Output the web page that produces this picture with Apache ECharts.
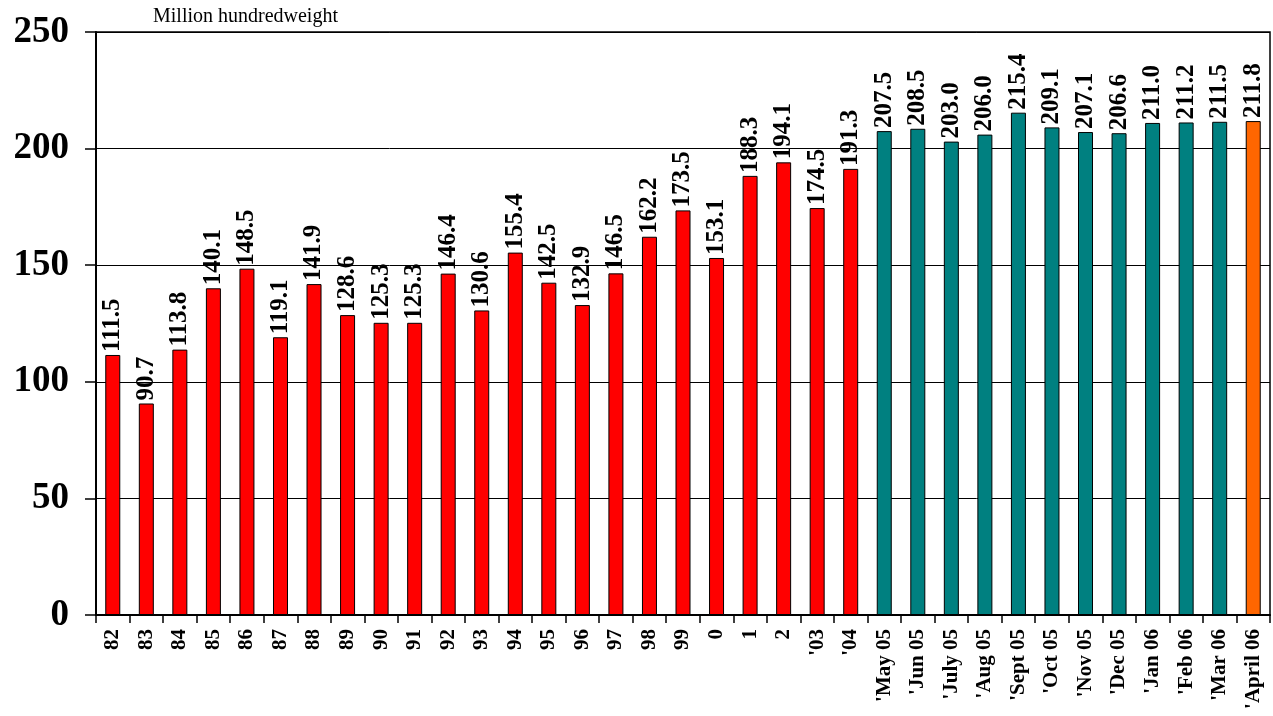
<!DOCTYPE html>
<html>
<head>
<meta charset="utf-8">
<script src="https://cdn.jsdelivr.net/npm/echarts@6/dist/echarts.min.js"></script>
<style>
  html, body { margin: 0; padding: 0; background: #fff; }
  #chart { width: 1273px; height: 716px; }
</style>
</head>
<body>
<div id="chart"></div>
<script>
// categories along the x axis
var categories = ["82", "83", "84", "85", "86", "87", "88", "89", "90", "91", "92", "93", "94", "95", "96", "97", "98", "99", "0", "1", "2", "'03", "'04",
  "'May 05", "'Jun 05", "'July 05", "'Aug 05", "'Sept 05", "'Oct 05", "'Nov 05", "'Dec 05", "'Jan 06", "'Feb 06", "'Mar 06", "'April 06"];
// values, million hundredweight
var values = [111.5, 90.7, 113.8, 140.1, 148.5, 119.1, 141.9, 128.6, 125.3, 125.3, 146.4, 130.6, 155.4, 142.5, 132.9, 146.5, 162.2, 173.5, 153.1, 188.3, 194.1, 174.5, 191.3,
  207.5, 208.5, 203.0, 206.0, 215.4, 209.1, 207.1, 206.6, 211.0, 211.2, 211.5, 211.8];
// bar colour groups: annual, monthly, latest month
var groups = ["year", "year", "year", "year", "year", "year", "year", "year", "year", "year", "year", "year", "year", "year", "year", "year", "year", "year", "year", "year", "year", "year", "year",
  "month", "month", "month", "month", "month", "month", "month", "month", "month", "month", "month", "latest"];
var groupColors = { year: "#ff0000", month: "#008080", latest: "#ff6600" };

var chart = echarts.init(document.getElementById("chart"));
var serif = "'Liberation Serif', 'Times New Roman', serif";

var option = {
  animation: false,
  backgroundColor: "#fff",
  title: {
    text: "Million hundredweight",
    left: 148,
    top: 2,
    textStyle: { fontFamily: serif, fontWeight: "normal", fontSize: 20, color: "#000" }
  },
  grid: {
    left: 96, right: 3, top: 32, bottom: 101,
    show: true, borderColor: "#000", borderWidth: 1.5
  },
  xAxis: {
    type: "category",
    data: categories,
    axisLine: { lineStyle: { color: "#000", width: 2 } },
    axisTick: { show: true, length: 8, lineStyle: { color: "#000", width: 1.5 } },
    axisLabel: {
      rotate: 90, interval: 0, margin: 14,
      fontFamily: serif, fontWeight: "bold", fontSize: 21, color: "#000"
    }
  },
  yAxis: {
    type: "value",
    min: 0, max: 250, interval: 50,
    axisLine: { show: true, lineStyle: { color: "#000", width: 2 } },
    axisTick: { show: true, length: 11, lineStyle: { color: "#000", width: 1.5 } },
    splitLine: { lineStyle: { color: "#000", width: 1 } },
    axisLabel: { margin: 27, fontFamily: serif, fontWeight: "bold", fontSize: 37, color: "#000" }
  },
  series: [{
    type: "bar",
    barWidth: 15,
    data: values.map(function (v, i) {
      return { value: v, itemStyle: { color: groupColors[groups[i]] } };
    }),
    itemStyle: { borderColor: "#000", borderWidth: 1 },
    label: {
      show: true,
      position: "top",
      rotate: 90,
      align: "left",
      verticalAlign: "middle",
      distance: 3,
      formatter: function (p) { return p.value.toFixed(1); },
      fontFamily: serif, fontWeight: "bold", fontSize: 25, color: "#000"
    }
  }]
};

chart.setOption(option);
</script>
</body>
</html>
